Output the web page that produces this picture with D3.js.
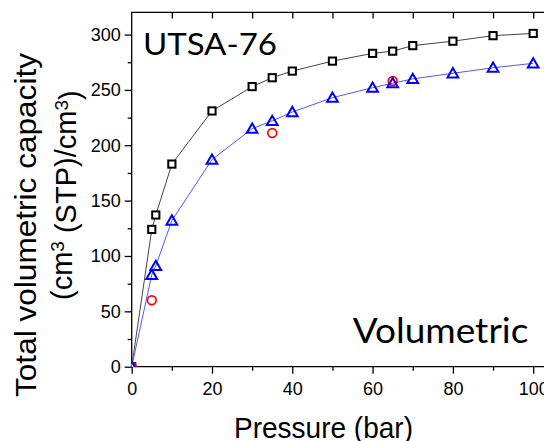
<!DOCTYPE html>
<html>
<head>
<meta charset="utf-8">
<script src="https://cdn.jsdelivr.net/npm/d3@7"></script>
<style>
  html, body { margin: 0; padding: 0; background: #fff; }
  svg { display: block; }
</style>
</head>
<body>
<svg id="chart" width="544" height="441"></svg>
<script>
// Total volumetric CH4 capacity of UTSA-76 vs pressure
const pressureA = [0, 5, 6, 10, 20, 30, 35, 40, 50, 60, 65, 70, 80, 90, 100];
const capacityA = [0, 124, 137, 183, 231, 253, 261, 267, 276, 283, 285, 290, 294, 299, 301];

const pressureB = [0, 5, 6, 10, 20, 30, 35, 40, 50, 60, 65, 70, 80, 90, 100];
const capacityB = [0, 83, 91, 132, 187, 215, 222, 230, 243, 252, 256, 260, 265, 270, 274];

const pressureC = [0, 5, 35, 65];
const capacityC = [0, 60, 211, 258];

const xMajorTicks = [0, 20, 40, 60, 80, 100];
const xMinorTicks = [10, 30, 50, 70, 90];
const xTopTicks = [10, 20, 30, 40, 50, 60, 70, 80, 90, 100];
const yMajorTicks = [0, 50, 100, 150, 200, 250, 300];
const yMinorTicks = [25, 75, 125, 175, 225, 275];

const svg = d3.select("#chart");

const plotLeft = 131.7, plotBottom = 366.7, plotTop = 12.4;
const x = d3.scaleLinear().domain([0, 104]).range([plotLeft, plotLeft + 4.015 * 104]);
const y = d3.scaleLinear().domain([0, 320]).range([plotBottom, plotTop]);

const axisFont = "'Liberation Sans', Arial, sans-serif";
const labelFont = "Lato, 'Open Sans', sans-serif";

// clip marks to the plot frame
svg.append("defs").append("clipPath").attr("id", "plotClip")
  .append("rect")
  .attr("x", x(0)).attr("y", y(320))
  .attr("width", x(104) - x(0)).attr("height", y(0) - y(320));

// axes
const styleAxis = g => {
  g.select(".domain").remove();
  g.selectAll("line").attr("stroke", "#000").attr("stroke-width", 1.3);
  g.selectAll("text").attr("fill", "#000")
    .style("font-family", axisFont).style("font-size", "18px");
};

svg.append("g").attr("transform", `translate(0,${plotBottom})`)
  .call(d3.axisBottom(x).tickValues(xMajorTicks).tickSize(7).tickPadding(9).tickFormat(d3.format("d")))
  .call(styleAxis);
svg.append("g").attr("transform", `translate(0,${plotBottom})`)
  .call(d3.axisBottom(x).tickValues(xMinorTicks).tickSize(4).tickFormat(""))
  .call(styleAxis);
svg.append("g").attr("transform", `translate(0,${plotTop})`)
  .call(d3.axisTop(x).tickValues(xTopTicks).tickSize(-6).tickFormat(""))
  .call(styleAxis);
svg.append("g").attr("transform", `translate(${plotLeft},0)`)
  .call(d3.axisLeft(y).tickValues(yMajorTicks).tickSize(7).tickPadding(4).tickFormat(d3.format("d")))
  .call(styleAxis);
svg.append("g").attr("transform", `translate(${plotLeft},0)`)
  .call(d3.axisLeft(y).tickValues(yMinorTicks).tickSize(4).tickFormat(""))
  .call(styleAxis);

// frame lines
svg.append("path")
  .attr("d", `M${x(104)},${plotTop}H${plotLeft}V${plotBottom}H${x(104)}`)
  .attr("fill", "none").attr("stroke", "#000").attr("stroke-width", 1.3);

// series
const plot = svg.append("g").attr("clip-path", "url(#plotClip)");
const line = d3.line().x(d => x(d[0])).y(d => y(d[1]));
const seriesA = pressureA.map((p, i) => [p, capacityA[i]]);
const seriesB = pressureB.map((p, i) => [p, capacityB[i]]);
const seriesC = pressureC.map((p, i) => [p, capacityC[i]]);

plot.append("path").datum(seriesA).attr("d", line)
  .attr("fill", "none").attr("stroke", "#444").attr("stroke-width", 1);
plot.append("path").datum(seriesB).attr("d", line)
  .attr("fill", "none").attr("stroke", "#5555ff").attr("stroke-width", 1);

plot.selectAll(".sq").data(seriesA).join("rect")
  .attr("x", d => x(d[0]) - 3.6).attr("y", d => y(d[1]) - 3.6)
  .attr("width", 7.2).attr("height", 7.2)
  .attr("fill", "#fff").attr("stroke", "#000").attr("stroke-width", 2);

plot.selectAll(".ci").data(seriesC).join("circle")
  .attr("cx", d => x(d[0])).attr("cy", d => y(d[1])).attr("r", 4.4)
  .attr("fill", "none").attr("stroke", "#ff0000").attr("stroke-width", 1.7);

const tri = d3.symbol().type(d3.symbolTriangle).size(50);
plot.selectAll(".tr").data(seriesB).join("path")
  .attr("d", tri)
  .attr("transform", d => `translate(${x(d[0])},${y(d[1]) + 1})`)
  .attr("fill", "none").attr("stroke", "#0000ff").attr("stroke-width", 2);

// axis titles
svg.append("text")
  .attr("x", 234).attr("y", 438)
  .attr("textLength", 179).attr("lengthAdjust", "spacingAndGlyphs")
  .style("font-family", axisFont).style("font-size", "29px")
  .text("Pressure (bar)");

svg.append("text")
  .attr("transform", "translate(36,397) rotate(-90)")
  .attr("textLength", 344).attr("lengthAdjust", "spacingAndGlyphs")
  .style("font-family", axisFont).style("font-size", "29px")
  .text("Total volumetric capacity");

const t2 = svg.append("text")
  .attr("transform", "translate(72,300) rotate(-90)")
  .style("font-family", axisFont).style("font-size", "29px");
t2.append("tspan").text("(cm");
t2.append("tspan").attr("dy", "-0.42em").style("font-size", "19px").text("3");
t2.append("tspan").attr("dy", "0.42em").text(" (STP)/cm");
t2.append("tspan").attr("dy", "-0.42em").style("font-size", "19px").text("3");
t2.append("tspan").attr("dy", "0.42em").text(")");

// in-plot labels
svg.append("text")
  .attr("x", 143).attr("y", 55)
  .attr("textLength", 134).attr("lengthAdjust", "spacingAndGlyphs")
  .style("font-family", labelFont).style("font-size", "31px")
  .text("UTSA-76");

svg.append("text")
  .attr("x", 352.7).attr("y", 343.3)
  .attr("textLength", 175.7).attr("lengthAdjust", "spacingAndGlyphs")
  .style("font-family", labelFont).style("font-size", "35px")
  .text("Volumetric");
</script>
</body>
</html>
